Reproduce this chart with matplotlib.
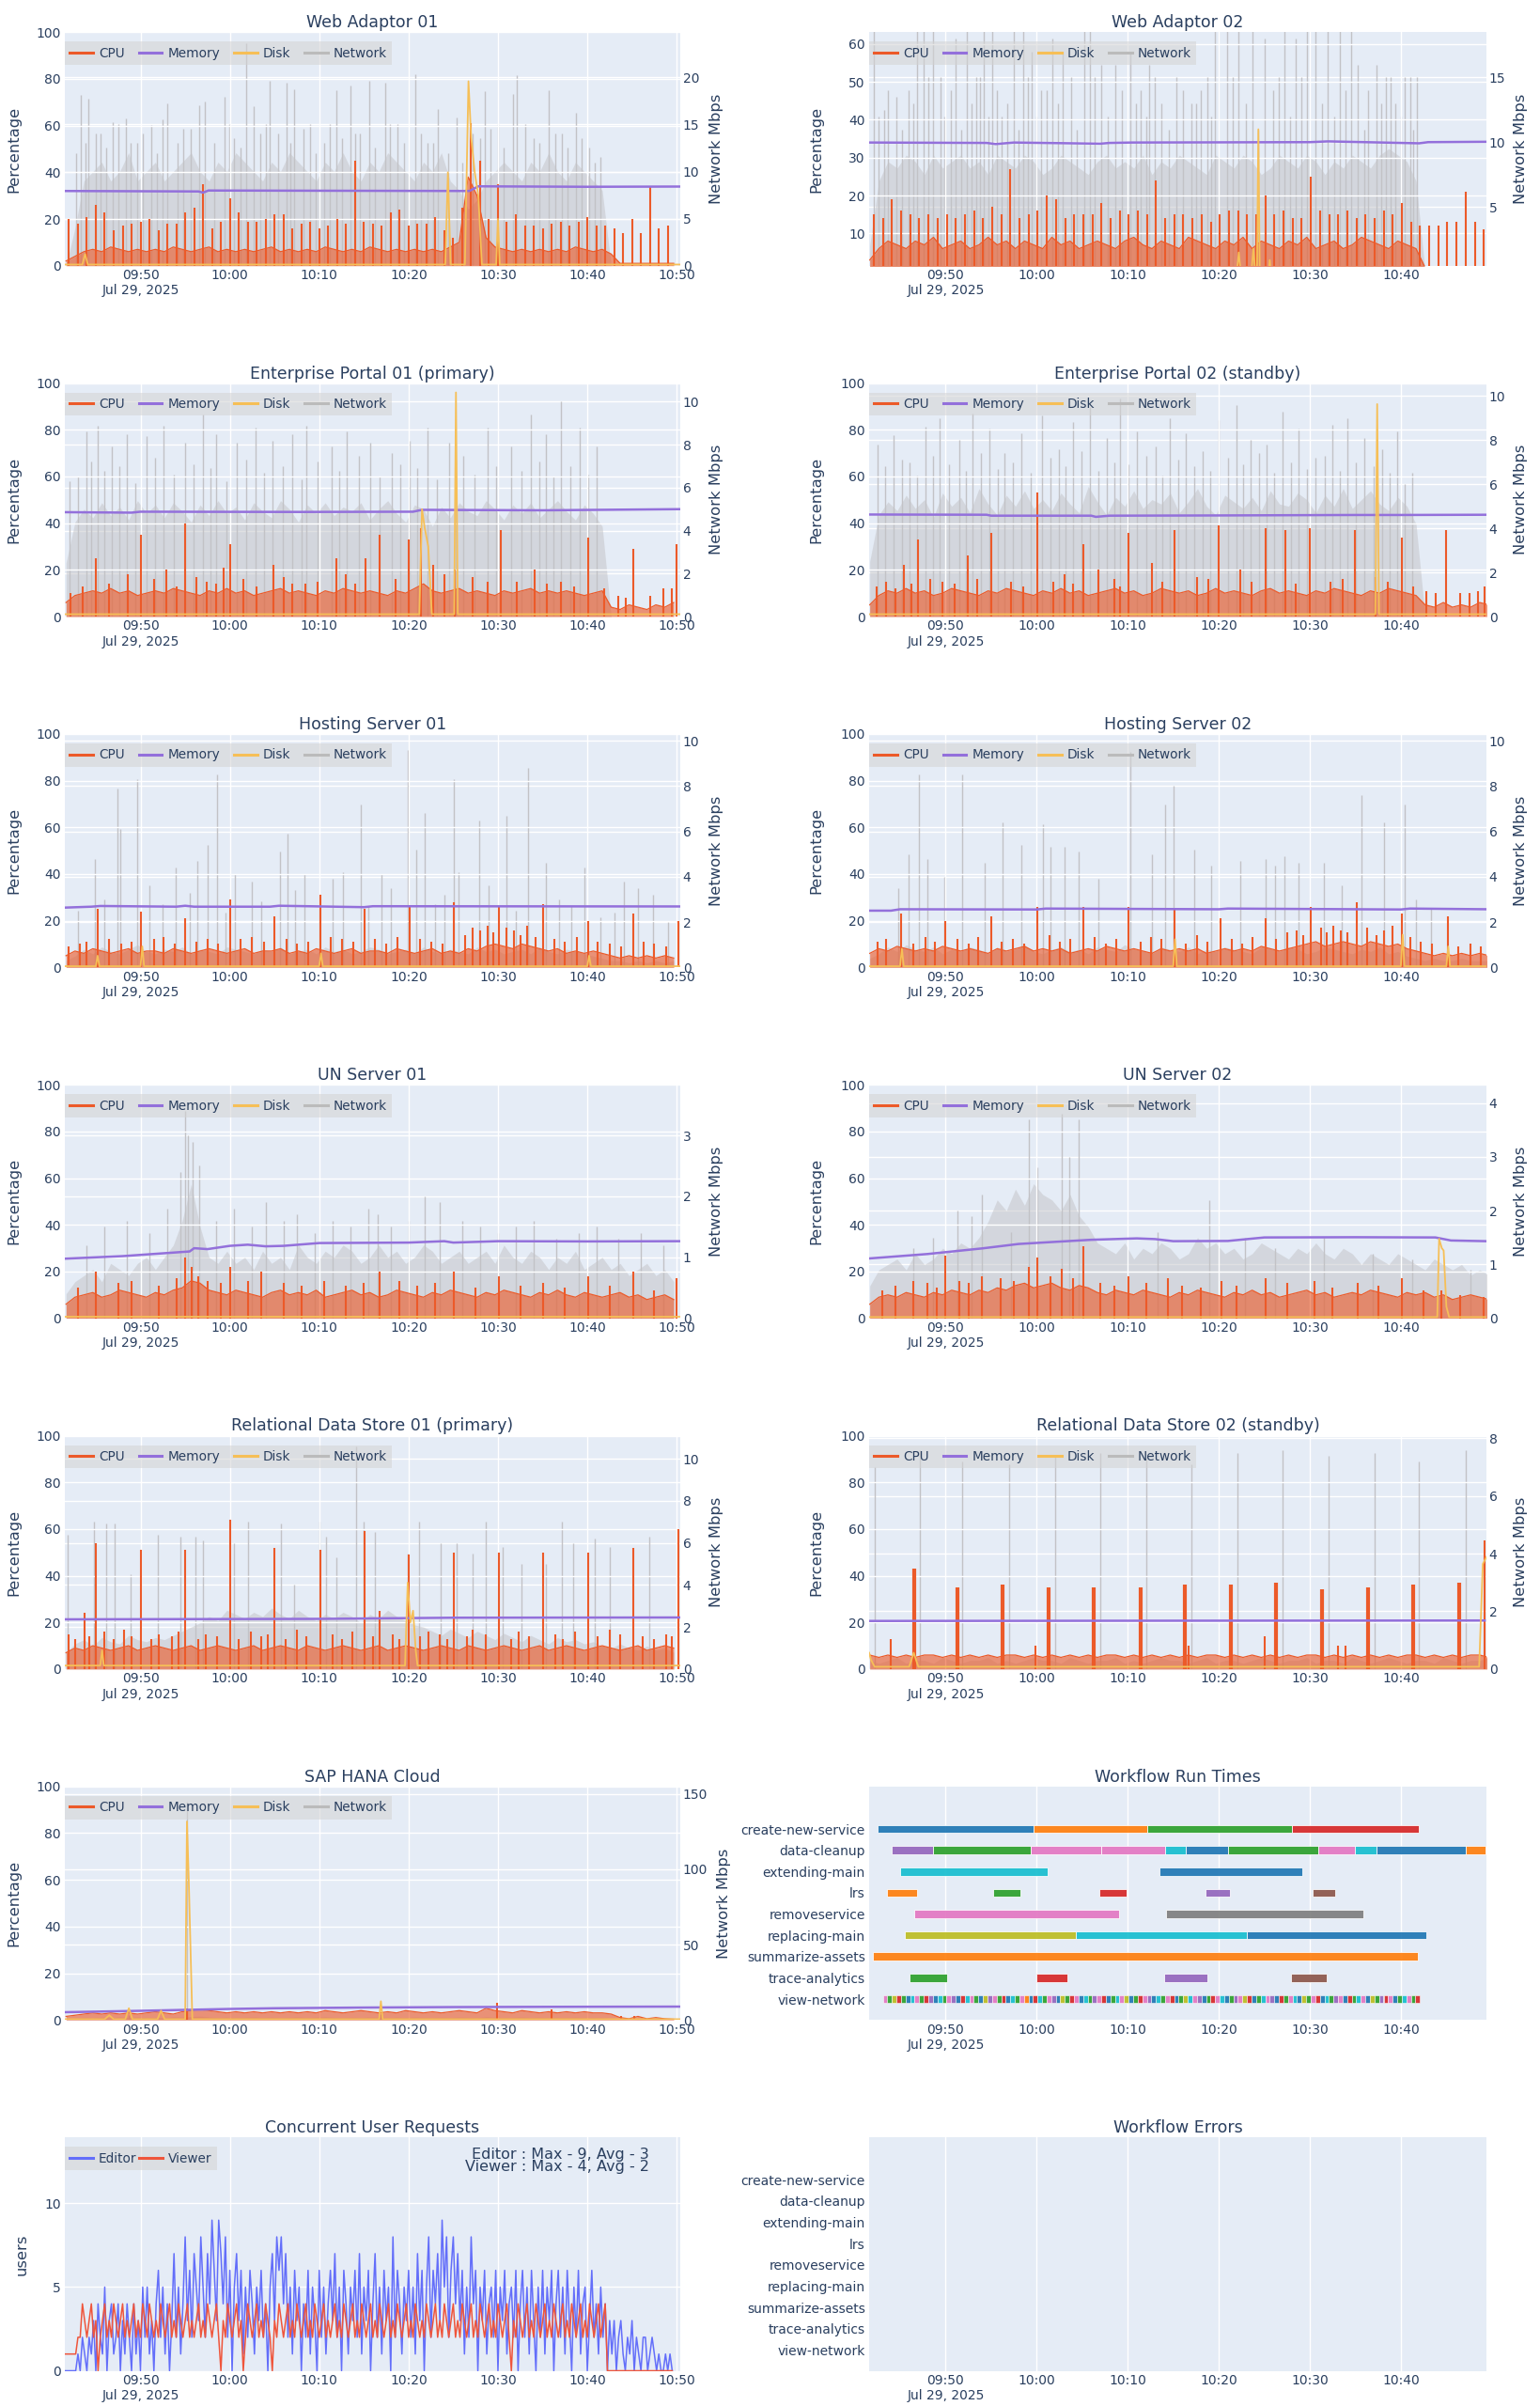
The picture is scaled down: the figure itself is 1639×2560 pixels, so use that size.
import numpy as np
import pandas as pd
import matplotlib
matplotlib.use("Agg")
import matplotlib.pyplot as plt
import matplotlib.dates as mdates
from matplotlib.lines import Line2D

plt.rcParams["font.family"] = ["DejaVu Sans"]

DAY = "2025-07-29 "
T0 = pd.Timestamp(DAY + "09:40:00")


def tm(m):
    # minutes after 09:40 -> datetime64
    return (T0 + pd.to_timedelta(np.asarray(m, dtype=float), unit="min")).to_numpy()


# ---------------- data ----------------
# dense-noise envelopes, one value per minute from 09:41:40
band_t = pd.date_range(DAY + "09:41:40", periods=69, freq="min").to_numpy()

# Web Adaptor 01
wa1_cpu_band = [2, 4, 6, 7, 6, 8, 7, 6, 7, 6,
                7, 6, 8, 7, 6, 7, 8, 6, 7, 6,
                7, 6, 7, 8, 6, 7, 6, 7, 6, 8,
                7, 6, 7, 6, 8, 7, 6, 7, 6, 7,
                6, 7, 6, 8, 10, 38, 30, 12, 8, 7,
                6, 7, 6, 7, 6, 7, 6, 8, 7, 6,
                7, 5, 1, 1, 1, 1, 1, 1, 1]
wa1_cpu_pk_t = pd.date_range(DAY + "09:42:00", periods=68, freq="min").to_numpy()
wa1_cpu_pk_v = [20, 18, 21, 26, 23, 15, 17, 18, 19, 20, 15, 18, 18, 23, 25, 35, 16, 19, 29, 23,
                19, 19, 20, 22, 22, 16, 18, 19, 16, 17, 20, 18, 45, 19, 18, 17, 23, 24, 17, 18,
                18, 21, 15, 12, 25, 61, 45, 20, 35, 19, 22, 17, 17, 16, 18, 19, 17, 19, 21, 17,
                17, 16, 14, 20, 14, 34, 16, 17]
wa1_mem_t = [1.5, 16.5, 17.0, 17.6, 46.8, 47.8, 60, 70.4]
wa1_mem_v = [32.0, 31.8, 31.3, 32.2, 32.0, 34.0, 33.8, 33.9]
wa1_disk_t = [1.5, 3.5, 3.8, 4.1, 44.1, 44.4, 44.7, 46.3, 46.7, 47.0, 47.4, 47.8, 48.2, 49.8, 50.0, 50.2, 70.4]
wa1_disk_v = [0.5, 0.5, 5, 0.5, 0.5, 40, 0.5, 0.5, 79, 55, 40, 30, 0.5, 0.5, 20, 0.5, 0.5]
wa1_net_band = [0, 4, 9, 10, 11, 9, 10, 12, 9, 10,
                11, 9, 10, 11, 12, 10, 9, 11, 10, 12,
                11, 10, 9, 11, 10, 12, 11, 10, 9, 11,
                10, 12, 10, 9, 11, 10, 12, 11, 10, 9,
                11, 10, 12, 9, 8, 6, 7, 9, 10, 11,
                10, 9, 11, 10, 12, 10, 9, 11, 10, 9,
                8, 0, 0, 0, 0, 0, 0, 0, 0]
wa1_net_pk_t = [3.3, 4.2, 5.5, 6.9, 8.4, 9.6, 11.2, 13.0, 14.8, 16.6, 17.2, 19.4, 20.5, 21.8,
                22.7, 24.5, 25.4, 26.3, 27.2, 29.0, 30.5, 31.9, 33.5, 34.5, 35.6, 37.4, 38.8,
                40.7, 42.1, 43.3, 45.4, 47.2, 48.5, 50.0, 51.7, 52.1, 54.0, 55.7, 57.2, 58.7,
                60.2, 61.5]
wa1_net_pk_v = [18.1, 17.7, 14, 15.2, 15.6, 13, 14.9, 17.2, 14.5, 17.0, 17.4, 17.9, 13.5, 23.6,
                16.9, 19.6, 14, 19.4, 18.7, 15, 13, 18.6, 19.1, 14, 19.6, 19.4, 15,
                20.3, 13, 16.6, 15.7, 14, 18.5, 15, 18.2, 20.2, 13.5, 18.6, 14, 16.2,
                12.5, 11.6]
wa1_net_mid_t = [2.8, 3.8, 5.0, 6.2, 7.5, 8.9, 10.3, 11.8, 12.5, 14.2, 15.6, 18.2, 19.9, 21.2,
                 23.4, 24.0, 26.8, 28.2, 29.6, 31.2, 32.6, 34.0, 36.2, 37.9, 39.5, 41.4, 42.7,
                 44.4, 46.0, 48.0, 49.2, 50.6, 53.0, 54.6, 56.4, 57.8, 59.4, 60.8]
wa1_net_mid_v = [12, 13, 14, 12.5, 15, 13, 14, 12, 15.5, 13, 14.5, 13, 15, 12.5,
                 14, 15, 13, 14.5, 12, 15, 13.5, 14, 12.5, 15, 13, 14, 13,
                 12, 11, 13.5, 14.5, 12.5, 15, 13, 14, 12.5, 13.5, 11]

# Web Adaptor 02
wa2_cpu_band = [3, 6, 8, 7, 6, 8, 7, 9, 6, 7,
                8, 6, 7, 9, 7, 8, 6, 8, 7, 6,
                9, 7, 8, 6, 7, 8, 7, 6, 8, 9,
                7, 6, 8, 7, 6, 9, 8, 7, 6, 8,
                7, 9, 6, 8, 7, 6, 8, 7, 9, 6,
                7, 8, 6, 7, 9, 8, 7, 6, 8, 7,
                6, 1, 1, 1, 1, 1, 1, 1, 1]
wa2_cpu_pk_t = pd.date_range(DAY + "09:42:07", periods=68, freq="min").to_numpy()
wa2_cpu_pk_v = [15, 14, 19, 16, 15, 14, 15, 14, 15, 14, 15, 16, 14, 17, 15, 27, 14, 15, 16, 20,
                19, 14, 15, 15, 15, 18, 14, 16, 15, 16, 15, 24, 14, 15, 15, 14, 15, 13, 15, 16,
                16, 15, 15, 20, 15, 16, 14, 14, 25, 16, 15, 15, 16, 14, 15, 14, 16, 15, 18, 13,
                12, 12, 12, 13, 13, 21, 13, 11]
wa2_mem_t = [1.6, 14.5, 15.5, 17.5, 27, 28, 30.5, 50, 52, 56, 62, 63, 69.4]
wa2_mem_v = [34.0, 33.9, 33.6, 34.0, 33.7, 33.9, 34.0, 34.1, 34.3, 34.1, 33.8, 34.1, 34.2]
wa2_disk_t = [1.6, 42.0, 42.2, 42.4, 43.6, 43.8, 44.0, 44.2, 44.35, 44.5, 45.5, 45.6, 45.7, 69.4]
wa2_disk_v = [0, 0, 5, 0, 0, 6, 0, 0, 37.5, 0, 0, 3, 0, 0]
wa2_net_band = [2, 7, 8.5, 8, 9, 8.5, 7.5, 9, 8, 8.5,
                9, 8, 8.5, 7.5, 9, 8.5, 8, 9, 8.5, 7.5,
                8, 9, 8.5, 8, 7.5, 8.5, 9, 8, 8.5, 8,
                9, 7.5, 8.5, 8, 9, 8.5, 8, 7.5, 9, 8.5,
                8, 9, 8.5, 7.5, 8, 9, 8.5, 8, 9, 8.5,
                7.5, 8.5, 8, 9, 8.5, 8, 9, 9.5, 9, 8.5,
                7, 0, 0, 0, 0, 0, 0, 0, 0]
wa2_net_pk_t = [2.1, 3.2, 4.6, 5.9, 6.9, 7.6, 8.6, 9.4, 11.1, 12.3, 13.4, 14.2, 15.1, 16.1, 17.5,
                18.5, 19.5, 20.5, 21.7, 22.9, 23.8, 25.2, 25.8, 27.1, 28.6, 30.3, 31.4, 32.4,
                33.7, 35.3, 37.0, 38.0, 38.8, 39.6, 40.9, 42.2, 43.7, 45.0, 46.6, 47.2, 48.5,
                49.7, 50.6, 52.0, 53.3, 54.5, 55.3, 56.4, 57.3, 58.4, 59.4, 60.4, 61.0, 61.8]
wa2_net_pk_v = [20, 12.5, 13.5, 14, 20, 20, 19.7, 15, 18, 19.7, 15, 20, 19, 12, 20,
                20, 17, 14, 18, 17, 15, 19, 20, 16, 16, 17, 14, 16,
                13, 15, 13, 14, 15, 20, 20, 20, 19, 18, 15, 20, 18,
                20, 20, 20, 20, 20, 16, 14, 16, 15, 13, 15, 15, 15]
wa2_net_mid_t = [2.6, 3.7, 5.2, 6.4, 8.1, 9.9, 10.6, 11.7, 12.9, 13.8, 14.7, 15.6, 16.8, 18.0,
                 19.0, 20.0, 21.1, 22.3, 24.4, 26.4, 27.8, 29.4, 30.9, 32.0, 33.0, 34.5, 36.1,
                 37.5, 39.2, 41.5, 43.0, 44.3, 46.0, 47.8, 49.1, 51.3, 52.7, 53.9, 56.0, 57.8,
                 58.9, 60.0, 61.4]
wa2_net_mid_v = [12, 14, 11, 13, 15, 12, 14, 11, 13, 15, 12, 14, 13, 11,
                 15, 12, 14, 13, 11, 15, 12, 14, 13, 12, 15, 11, 14,
                 13, 12, 15, 13, 11, 14, 12, 15, 13, 12, 14, 11, 13,
                 15, 12, 11]

# Enterprise Portal 01 (primary)
ep1_cpu_band = [6, 9, 10, 11, 10, 12, 10, 11, 9, 10,
                11, 10, 12, 11, 10, 9, 11, 10, 12, 10,
                11, 9, 10, 11, 12, 10, 11, 10, 9, 11,
                10, 12, 11, 10, 11, 10, 9, 11, 10, 12,
                14, 11, 10, 11, 12, 10, 11, 10, 9, 11,
                10, 11, 12, 10, 11, 10, 11, 10, 9, 10,
                11, 4, 3, 5, 4, 3, 5, 4, 6]
ep1_cpu_pk_t = [2.2, 3.5, 5.0, 6.5, 8.6, 10.1, 11.5, 12.9, 14.0, 15.0, 16.3, 17.4, 18.5, 19.3,
                20.0, 21.5, 23.0, 24.9, 26.0, 27.0, 28.5, 29.8, 31.9, 33.0, 34.0, 35.2, 36.8,
                38.5, 40.0, 41.4, 42.8, 44.0, 45.2, 47.2, 48.8, 50.3, 52.1, 54.1, 55.5, 57.0,
                58.5, 60.1, 61.9, 63.5, 64.3, 65.1, 67.0, 68.5, 69.5, 70.0]
ep1_cpu_pk_v = [10, 13, 25, 14, 18, 35, 16, 20, 13, 40, 17, 15, 14, 21,
                31, 16, 13, 22, 17, 14, 14, 15, 25, 18, 14, 25, 35,
                16, 33, 38, 22, 18, 20, 17, 15, 37, 15, 20, 14, 15,
                13, 34, 12, 9, 8, 29, 9, 12, 12, 31]
ep1_mem_t = [1.5, 9, 10, 28, 40.5, 41.5, 55, 70.4]
ep1_mem_v = [44.7, 44.5, 44.9, 44.8, 44.9, 45.7, 45.5, 46.0]
ep1_disk_t = [1.5, 41.2, 41.5, 41.8, 42.2, 42.6, 45.1, 45.3, 45.5, 70.4]
ep1_disk_v = [1, 1, 46, 38, 30, 1, 1, 96, 1, 1]
ep1_net_band = [2.5, 4.4, 5.0, 4.6, 5.3, 4.7, 5.1, 4.5, 5.4, 4.8,
                5.2, 4.6, 5.3, 4.9, 4.4, 5.2, 4.7, 5.4, 4.8, 5.1,
                4.5, 5.3, 4.9, 4.6, 5.4, 5.0, 4.4, 5.2, 4.8, 5.3,
                4.7, 5.1, 4.9, 5.3, 4.5, 5.0, 5.4, 4.8, 4.4, 5.2,
                5.0, 4.2, 5.1, 4.6, 5.3, 4.9, 4.7, 5.4, 5.0, 4.5,
                5.2, 4.8, 5.3, 4.6, 5.0, 5.4, 4.9, 4.5, 5.2, 4.8,
                4.2, 0, 0, 0, 0, 0, 0, 0, 0]
ep1_net_pk_t = [2.1, 3.9, 5.2, 6.8, 8.5, 10.7, 12.6, 15.0, 17.0, 18.5, 20.8, 22.9, 24.8, 27.0,
                28.6, 31.4, 33.1, 35.7, 38.1, 40.1, 42.1, 44.5, 46.1, 48.8, 51.5, 53.7, 55.4,
                57.0, 59.2, 61.0]
ep1_net_pk_v = [6.3, 8.6, 8.9, 7.9, 8.5, 8.4, 8.9, 8.1, 9.4, 8.5, 8.1, 8.8, 8.2, 8.5,
                8.9, 7.9, 8.6, 8.1, 7.6, 8.2, 8.8, 8.1, 7.5, 8.8, 7.9, 9.4, 8.5,
                10.0, 8.8, 7.9]
ep1_net_mid_t = [3.0, 4.5, 6.0, 7.6, 9.4, 11.6, 13.7, 15.9, 17.8, 19.6, 21.8, 23.8, 25.9, 28.0,
                 29.8, 32.2, 34.4, 36.8, 39.1, 41.0, 43.2, 45.3, 47.4, 49.8, 52.6, 54.6, 56.2,
                 58.1, 60.1]
ep1_net_mid_v = [6.5, 7.2, 6.8, 7.0, 6.2, 7.4, 6.6, 7.1, 6.9, 6.3, 7.3, 6.7, 7.0, 6.4,
                 7.2, 6.8, 7.5, 6.5, 7.1, 6.9, 6.4, 7.3, 6.6, 7.0, 6.8, 7.2, 6.5,
                 7.0, 6.6]

# Enterprise Portal 02 (standby)
ep2_cpu_band = [5, 9, 11, 10, 12, 10, 11, 9, 10, 12,
                11, 10, 9, 11, 10, 12, 11, 10, 9, 11,
                10, 12, 10, 11, 9, 10, 11, 12, 10, 11,
                9, 10, 12, 11, 10, 11, 9, 10, 12, 10,
                11, 10, 9, 11, 12, 10, 11, 10, 9, 11,
                10, 12, 11, 10, 9, 11, 10, 12, 11, 10,
                9, 5, 4, 6, 4, 5, 4, 6, 5]
ep2_cpu_pk_t = [2.4, 3.5, 4.5, 5.4, 6.2, 7.0, 8.3, 9.7, 11.0, 12.4, 13.5, 15.0, 17.2, 18.5,
                20.1, 21.8, 23.1, 24.0, 25.1, 26.8, 28.5, 29.2, 30.1, 32.7, 33.8, 35.1, 37.6,
                38.9, 40.0, 42.4, 43.6, 45.1, 47.3, 48.5, 50.0, 52.3, 53.6, 55.0, 57.2, 58.6,
                60.1, 61.4, 62.8, 63.8, 65.0, 66.5, 67.5, 68.5, 69.2]
ep2_cpu_pk_v = [13, 15, 12, 22, 14, 33, 16, 15, 14, 26, 16, 36, 15, 13,
                53, 15, 18, 14, 31, 20, 16, 13, 36, 23, 15, 37, 17,
                16, 39, 20, 15, 38, 37, 14, 38, 15, 16, 37, 17, 15,
                34, 13, 11, 10, 37, 10, 10, 11, 13]
ep2_mem_t = [1.6, 14.5, 15.0, 26.0, 26.5, 28, 40, 55, 60, 69.4]
ep2_mem_v = [43.7, 43.6, 43.2, 43.2, 42.7, 43.2, 43.3, 43.5, 43.5, 43.6]
ep2_disk_t = [1.6, 57.2, 57.4, 57.6, 69.4]
ep2_disk_v = [1, 1, 91, 1, 1]
ep2_net_band = [2.5, 4.6, 5.2, 4.8, 5.5, 4.9, 5.3, 4.5, 5.6, 5.0,
                5.4, 4.7, 5.8, 5.1, 4.6, 5.5, 5.0, 5.7, 4.9, 5.3,
                4.8, 5.6, 5.1, 4.7, 5.9, 5.2, 4.6, 5.4, 5.0, 5.7,
                4.9, 5.3, 5.1, 5.6, 4.7, 5.2, 5.8, 5.0, 4.6, 5.5,
                5.2, 4.9, 5.4, 4.8, 5.7, 5.1, 5.0, 5.6, 5.3, 4.7,
                5.5, 5.0, 5.8, 4.9, 5.3, 5.7, 5.1, 4.8, 5.4, 5.0,
                4.2, 0, 0, 0, 0, 0, 0, 0, 0]
ep2_net_pk_t = [2.5, 4.3, 6.0, 7.8, 9.3, 11.5, 13.0, 14.8, 16.5, 18.3, 20.6, 22.4, 24.0, 25.8,
                27.7, 29.2, 31.0, 33.1, 34.6, 36.4, 38.2, 40.0, 41.9, 43.5, 45.3, 47.0, 48.8,
                50.6, 52.5, 54.1, 56.0, 57.9, 59.6, 61.2]
ep2_net_pk_v = [7.8, 8.2, 7.0, 8.6, 9.0, 8.0, 9.2, 8.5, 7.4, 8.3, 9.1, 7.6, 8.8, 9.5,
                8.1, 9.9, 8.4, 7.7, 9.0, 8.3, 7.5, 8.9, 9.6, 8.0, 7.8, 9.3, 8.5,
                7.2, 8.7, 9.0, 8.1, 7.6, 8.4, 6.5]
ep2_net_mid_t = [3.4, 5.2, 6.9, 8.6, 10.4, 12.2, 13.9, 15.7, 17.4, 19.4, 21.5, 23.2, 24.9, 26.8,
                 28.5, 30.1, 32.0, 33.8, 35.5, 37.3, 39.1, 41.0, 42.7, 44.4, 46.1, 47.9, 49.7,
                 51.6, 53.3, 55.1, 57.0, 58.8, 60.4]
ep2_net_mid_v = [6.8, 7.1, 6.4, 7.3, 6.9, 6.6, 7.4, 6.7, 7.0, 6.5, 7.2, 6.8, 7.5, 6.6,
                 7.0, 6.9, 7.3, 6.4, 7.1, 6.8, 6.6, 7.2, 6.9, 7.4, 6.5, 7.0, 6.7,
                 7.3, 6.6, 7.0, 6.8, 6.5, 6.0]

# Hosting Server 01
hs1_cpu_band = [5, 7, 6, 8, 7, 6, 7, 8, 6, 7,
                7, 6, 8, 7, 6, 7, 8, 7, 6, 7,
                8, 6, 7, 7, 8, 6, 7, 6, 8, 7,
                6, 7, 8, 6, 7, 7, 6, 8, 7, 6,
                7, 8, 6, 7, 6, 8, 7, 9, 10, 9,
                8, 10, 9, 8, 7, 8, 6, 7, 6, 7,
                6, 5, 4, 5, 4, 5, 4, 5, 4]
hs1_cpu_pk_t = [5.2, 10.1, 15.0, 20.0, 25.0, 30.1, 35.1, 40.1, 45.1, 50.1, 55.0, 60.1, 65.1, 70.2,
                2.0, 3.2, 4.0, 6.5, 7.8, 9.0, 11.5, 12.6, 13.8, 16.3, 17.5, 18.7, 21.2, 22.5,
                23.8, 26.3, 27.5, 28.8, 31.3, 32.5, 33.8, 36.2, 37.5, 38.8, 41.3, 42.5, 43.8,
                46.3, 47.2, 48.0, 48.8, 49.5, 51.0, 51.8, 52.5, 53.3, 54.2, 56.3, 57.5, 58.8,
                61.2, 62.5, 63.8, 66.3, 67.5, 68.8]
hs1_cpu_pk_v = [25, 24, 21, 29, 22, 31, 25, 26, 28, 26, 27, 20, 23, 20,
                9, 10, 11, 12, 10, 11, 12, 13, 10, 11, 12, 10, 12, 13,
                11, 12, 10, 11, 13, 12, 11, 12, 10, 13, 12, 11, 10,
                14, 17, 16, 18, 15, 17, 16, 14, 18, 13, 12, 11, 13,
                11, 10, 9, 11, 10, 9]
hs1_mem_t = [1.5, 4.5, 5.5, 14, 15, 16, 24.5, 25.5, 35, 36, 70.4]
hs1_mem_v = [25.6, 26.0, 26.3, 26.0, 26.4, 26.0, 26.0, 26.4, 25.8, 26.2, 26.1]
hs1_disk_t = [1.5, 5.0, 5.2, 5.4, 10.0, 10.2, 10.4, 30.0, 30.2, 30.4, 60.0, 60.2, 60.4, 70.4]
hs1_disk_v = [0.5, 0.5, 5, 0.5, 0.5, 9, 0.5, 0.5, 6, 0.5, 0.5, 5, 0.5, 0.5]
hs1_net_band = [0.3, 0.5, 0.8, 0.6, 0.9, 0.7, 0.6, 0.8, 1.0, 0.7,
                0.6, 0.8, 0.7, 0.9, 0.6, 0.8, 0.7, 0.6, 0.9, 0.8,
                0.7, 0.6, 0.8, 0.7, 0.9, 0.6, 0.7, 0.8, 0.6, 0.9,
                0.7, 0.8, 0.6, 0.7, 0.9, 0.8, 0.6, 0.7, 0.8, 0.6,
                0.9, 0.7, 0.6, 0.8, 0.7, 0.6, 0.9, 0.7, 0.8, 0.6,
                0.7, 0.8, 0.6, 0.9, 0.7, 0.6, 0.8, 0.7, 0.6, 0.5,
                0.4, 0.3, 0.3, 0.2, 0.3, 0.2, 0.3, 0.2, 0.3]
hs1_net_pk_t = [4.9, 7.4, 7.7, 9.6, 13.9, 16.4, 17.5, 18.6, 20.6, 25.6, 26.5, 28.3, 32.7, 34.6,
                37.0, 39.9, 40.9, 41.8, 45.1, 45.6, 47.9, 50.9, 53.4, 55.4, 59.7, 64.1, 65.7,
                67.4, 3.0, 6.0, 11.0, 12.5, 15.5, 19.5, 22.5, 23.5, 27.3, 30.0, 31.5, 35.5,
                38.0, 43.0, 44.0, 49.0, 52.0, 56.8, 58.2, 61.5, 63.0, 69.0]
hs1_net_pk_v = [4.8, 7.9, 6.1, 8.3, 4.4, 4.7, 5.4, 8.5, 4.1, 5.1, 5.9, 4.1, 4.2, 7.2,
                4.1, 9.6, 5.2, 6.8, 8.3, 4.2, 6.5, 6.7, 8.8, 4.6, 4.4, 3.8, 3.5,
                3.2, 2.5, 3.0, 3.6, 2.8, 3.3, 2.4, 3.8, 2.9, 3.4, 2.6, 3.9, 2.7,
                3.5, 2.8, 3.2, 3.6, 2.5, 3.0, 2.7, 2.2, 2.4, 2.0]

# Hosting Server 02
hs2_cpu_band = [6, 8, 7, 9, 8, 7, 8, 7, 9, 8,
                7, 8, 7, 6, 8, 7, 8, 9, 7, 8,
                7, 8, 6, 7, 8, 7, 9, 8, 7, 8,
                7, 6, 8, 7, 8, 7, 8, 6, 7, 8,
                7, 8, 7, 9, 8, 7, 8, 9, 10, 11,
                9, 10, 11, 10, 9, 11, 10, 9, 10, 8,
                7, 6, 5, 6, 5, 6, 5, 6, 5]
hs2_cpu_pk_t = [5.1, 10.0, 15.0, 20.1, 25.1, 30.1, 35.1, 40.2, 45.1, 50.1, 55.2, 60.1, 65.2,
                2.5, 3.5, 6.5, 7.8, 8.8, 11.3, 12.5, 13.6, 16.2, 17.4, 18.6, 21.4, 22.6, 23.7,
                26.4, 27.6, 28.7, 31.4, 32.6, 33.7, 36.4, 37.6, 38.8, 41.4, 42.6, 43.7, 46.3,
                47.5, 48.6, 49.3, 51.2, 51.9, 52.6, 53.4, 54.1, 56.3, 57.3, 58.2, 59.1, 61.0,
                62.2, 63.4, 66.3, 67.6, 68.8]
hs2_cpu_pk_v = [23, 20, 22, 26, 26, 26, 25, 21, 21, 26, 28, 23, 22,
                11, 12, 10, 13, 11, 12, 10, 13, 11, 12, 10, 14, 11, 12,
                13, 10, 12, 11, 13, 12, 10, 14, 11, 12, 10, 13, 12,
                15, 16, 14, 17, 15, 18, 16, 15, 17, 14, 16, 18, 13,
                11, 10, 9, 10, 9]
hs2_mem_t = [1.6, 4.0, 5.0, 20, 21, 40, 41, 60, 61, 69.4]
hs2_mem_v = [24.3, 24.3, 24.9, 24.8, 25.2, 24.9, 25.2, 24.8, 25.2, 24.9]
hs2_disk_t = [1.6, 5.0, 5.2, 5.4, 35.0, 35.2, 35.4, 60.0, 60.2, 60.4, 65.0, 65.2, 65.4, 69.4]
hs2_disk_v = [0.5, 0.5, 8, 0.5, 0.5, 12, 0.5, 0.5, 14, 0.5, 0.5, 9, 0.5, 0.5]
hs2_net_band = [0.4, 0.6, 0.9, 0.7, 1.0, 0.8, 0.7, 0.9, 0.6, 0.8,
                0.7, 0.9, 0.8, 0.6, 0.9, 0.7, 0.8, 1.0, 0.7, 0.6,
                0.8, 0.9, 0.7, 0.8, 0.6, 0.9, 0.8, 0.7, 1.0, 0.8,
                0.7, 0.6, 0.9, 0.8, 0.7, 0.9, 0.6, 0.8, 0.7, 0.9,
                0.8, 0.7, 0.6, 0.9, 0.8, 0.7, 0.9, 0.8, 0.6, 0.7,
                0.9, 0.8, 0.7, 0.6, 0.8, 0.7, 0.9, 0.6, 0.7, 0.5,
                0.4, 0.3, 0.4, 0.3, 0.3, 0.4, 0.3, 0.3, 0.3]
hs2_net_pk_t = [4.8, 5.9, 7.1, 8.0, 9.9, 11.8, 14.3, 16.3, 18.3, 20.7, 21.5, 23.1, 24.6, 26.8,
                30.3, 32.7, 34.1, 35.0, 37.3, 39.2, 42.4, 45.1, 46.2, 47.2, 48.8, 51.5, 53.5,
                55.7, 58.2, 60.4, 61.7, 63.3]
hs2_net_pk_v = [3.5, 5.0, 8.5, 4.8, 4.0, 8.5, 4.6, 6.4, 5.4, 6.3, 5.3, 5.3, 5.1, 3.9,
                9.5, 5.0, 7.2, 8.0, 5.2, 4.5, 4.7, 4.8, 4.5, 4.9, 4.6, 4.6, 3.6,
                7.6, 6.4, 7.2, 3.0, 2.6]

# UN Server 01
un1_cpu_band = [6, 9, 10, 11, 9, 10, 12, 11, 10, 9,
                11, 10, 12, 13, 16, 15, 12, 11, 10, 12,
                11, 10, 9, 11, 12, 10, 11, 10, 12, 9,
                10, 11, 12, 10, 11, 9, 10, 12, 11, 10,
                9, 11, 10, 12, 11, 10, 9, 11, 10, 12,
                11, 10, 9, 11, 10, 12, 10, 9, 11, 10,
                9, 10, 11, 9, 10, 8, 9, 10, 8]
un1_cpu_pk_t = [5.0, 15.0, 15.7, 20.0, 23.5, 36.8, 45.1, 50.1, 60.1, 65.1, 70.0,
                3.0, 7.5, 9.0, 12.0, 14.0, 16.5, 17.5, 19.0, 22.0, 26.0, 28.0, 30.5,
                33.0, 35.0, 39.0, 41.0, 43.0, 47.5, 52.5, 55.0, 57.5, 62.5, 67.5]
un1_cpu_pk_v = [20, 26, 22, 22, 20, 20, 20, 18, 18, 20, 17,
                13, 15, 16, 14, 17, 18, 16, 15, 16, 15, 14, 16,
                14, 15, 16, 14, 15, 13, 14, 15, 13, 14, 12]
un1_mem_t = [1.5, 8, 14, 15.5, 16.0, 17.5, 20, 22, 24, 26, 30, 40, 44, 45, 50, 60, 70.4]
un1_mem_v = [25.5, 26.6, 28.2, 28.6, 30.0, 29.6, 31.0, 31.5, 30.8, 31.0, 32.2, 32.4, 33.0, 32.4,
             33.0, 32.9, 33.0]
un1_disk_t = [1.5, 70.4]
un1_disk_v = [0.5, 0.5]
un1_net_band = [0.4, 0.6, 0.7, 0.8, 0.6, 0.9, 0.8, 0.7, 0.9, 1.0,
                0.8, 1.0, 1.2, 1.6, 2.2, 1.5, 1.0, 0.9, 1.1, 0.9,
                1.0, 0.8, 1.1, 0.9, 1.0, 0.8, 1.2, 1.0, 0.9, 1.1,
                1.0, 1.2, 1.1, 0.9, 1.0, 1.2, 1.0, 1.1, 0.9, 1.0,
                1.2, 1.1, 0.9, 1.0, 1.1, 0.9, 1.0, 1.1, 0.9, 1.2,
                1.0, 0.9, 1.1, 1.0, 0.8, 1.0, 0.9, 1.1, 0.8, 0.9,
                1.0, 0.8, 0.9, 0.7, 0.8, 0.9, 0.7, 0.8, 0.6]
un1_net_pk_t = [4.0, 6.0, 8.5, 11.0, 13.0, 14.5, 15.0, 15.3, 15.8, 16.6, 18.5, 20.5, 22.5, 24.0,
                26.0, 27.5, 29.5, 31.5, 33.5, 35.5, 36.5, 38.0, 40.0, 41.8, 43.5, 46.0, 48.0,
                50.0, 52.0, 54.0, 56.5, 59.0, 61.0, 63.5, 66.0, 68.5]
un1_net_pk_v = [1.2, 1.5, 1.6, 1.4, 1.8, 2.4, 3.4, 3.0, 2.9, 2.5, 1.6, 1.8, 1.5, 1.9,
                1.6, 1.7, 1.4, 1.6, 1.5, 1.8, 1.7, 1.5, 1.6, 2.0, 1.9, 1.6, 1.5,
                1.4, 1.5, 1.6, 1.3, 1.4, 1.5, 1.3, 1.4, 1.2]

# UN Server 02
un2_cpu_band = [6, 9, 10, 9, 11, 10, 9, 11, 10, 12,
                11, 10, 12, 11, 13, 12, 14, 15, 13, 14,
                15, 13, 12, 14, 13, 11, 10, 12, 11, 10,
                12, 11, 10, 9, 11, 10, 12, 11, 10, 9,
                11, 10, 12, 10, 11, 9, 10, 11, 12, 10,
                11, 9, 10, 11, 10, 12, 11, 10, 9, 11,
                10, 11, 9, 10, 8, 9, 10, 9, 8]
un2_cpu_pk_t = [6.5, 10.0, 14.0, 19.1, 20.1, 22.8, 25.1, 30.1, 34.4, 40.3, 45.1, 50.5, 55.3,
                60.1, 64.4, 69.1, 3.0, 4.5, 8.0, 9.0, 11.5, 12.5, 16.0, 17.5, 21.5, 24.0, 27.0,
                28.5, 32.0, 36.0, 38.0, 42.0, 47.5, 52.5, 57.5, 62.5, 66.5]
un2_cpu_pk_v = [16, 27, 18, 22, 26, 21, 31, 18, 17, 16, 17, 16, 15,
                17, 12, 9, 12, 14, 15, 13, 16, 15, 17, 16, 18, 17, 15,
                14, 15, 14, 13, 14, 15, 13, 14, 12, 10]
un2_mem_t = [1.6, 8, 14, 18, 21.5, 26, 31, 33, 35, 41, 45, 55, 63.8, 65.5, 69.4]
un2_mem_v = [25.6, 27.5, 29.9, 31.8, 32.6, 33.6, 34.2, 33.9, 33.0, 33.1, 34.6, 34.7, 34.6, 33.3, 33.0]
un2_disk_t = [1.6, 64.0, 64.2, 64.5, 64.7, 65.0, 65.3, 69.4]
un2_disk_v = [0.5, 0.5, 34, 30, 29, 5, 0.5, 0.5]
un2_net_band = [0.6, 0.9, 1.0, 1.1, 0.9, 1.2, 1.0, 1.1, 1.3, 1.2,
                1.4, 1.3, 1.5, 1.8, 2.2, 2.0, 2.4, 2.1, 2.5, 2.3,
                2.2, 2.0, 2.3, 1.9, 1.7, 1.4, 1.3, 1.2, 1.4, 1.1,
                1.3, 1.2, 1.4, 1.3, 1.1, 1.2, 1.5, 1.3, 1.4, 1.2,
                1.3, 1.1, 1.2, 1.4, 1.3, 1.2, 1.1, 1.3, 1.2, 1.4,
                1.2, 1.1, 1.3, 1.2, 1.0, 1.2, 1.1, 1.0, 1.2, 1.1,
                1.0, 0.9, 1.1, 1.0, 0.9, 1.0, 0.8, 0.9, 0.8]
un2_net_pk_t = [6.5, 8.6, 11.3, 12.9, 14.0, 17.2, 19.1, 20.1, 22.8, 23.6, 24.6, 33.3, 39.0,
                42.9, 46.2, 51.5, 56.9, 61.2, 67.6]
un2_net_pk_v = [1.3, 1.5, 2.0, 1.9, 2.3, 1.6, 3.7, 2.8, 3.8, 3.0, 3.7, 1.6, 2.2,
                1.5, 1.3, 1.5, 1.2, 1.1, 0.9]

# Relational Data Store 01 (primary)
rd1_cpu_band = [7, 9, 8, 10, 9, 8, 9, 10, 8, 9,
                10, 9, 8, 9, 10, 8, 9, 10, 9, 8,
                9, 10, 8, 9, 10, 9, 8, 10, 9, 8,
                9, 10, 9, 8, 9, 10, 8, 9, 10, 9,
                8, 9, 10, 9, 8, 10, 9, 8, 9, 10,
                9, 8, 9, 10, 8, 9, 10, 9, 8, 9,
                10, 9, 8, 9, 10, 8, 9, 10, 9]
rd1_cpu_pk_t = [3.7, 5.0, 10.0, 15.0, 20.0, 25.0, 30.1, 35.1, 36.8, 40.0, 45.1, 50.1, 55.0, 60.1,
                65.1, 70.2, 2.0, 2.7, 4.3, 6.0, 7.0, 8.2, 9.0, 11.2, 12.0, 13.5, 14.3, 16.5,
                17.3, 18.6, 21.0, 22.3, 23.5, 24.2, 26.2, 27.5, 28.6, 31.5, 32.5, 33.7, 36.0,
                38.2, 39.0, 41.3, 42.2, 43.5, 44.3, 46.5, 47.2, 48.6, 51.5, 52.3, 53.5, 56.4,
                57.3, 58.6, 61.2, 62.5, 63.7, 66.2, 67.5, 68.8, 69.5]
rd1_cpu_pk_v = [24, 54, 51, 51, 64, 52, 51, 59, 25, 49, 50, 50, 50, 50,
                52, 60, 15, 13, 14, 16, 13, 17, 14, 13, 15, 14, 16, 13,
                15, 14, 13, 16, 14, 15, 13, 17, 14, 15, 13, 16, 14,
                15, 13, 14, 16, 15, 13, 14, 17, 15, 13, 16, 14, 15,
                13, 16, 14, 17, 15, 14, 13, 15, 14]
rd1_mem_t = [1.5, 30, 45, 70.4]
rd1_mem_v = [21.3, 21.5, 22.0, 22.1]
rd1_disk_t = [1.5, 5.5, 5.7, 5.9, 39.6, 39.9, 40.2, 40.5, 40.8, 41.0, 70.4]
rd1_disk_v = [1.5, 1.5, 8, 1.5, 1.5, 37, 20, 25, 8, 1.5, 1.5]
rd1_net_band = [0.8, 1.2, 1.4, 1.1, 1.5, 1.3, 1.2, 1.6, 1.4, 1.3,
                1.5, 1.4, 1.6, 1.8, 2.0, 2.2, 2.5, 2.3, 2.8, 2.6,
                2.4, 2.7, 2.5, 2.9, 2.6, 2.4, 2.8, 2.5, 2.3, 2.6,
                2.4, 2.7, 2.5, 2.2, 2.6, 2.4, 2.8, 2.5, 2.3, 2.1,
                2.0, 1.8, 1.6, 1.9, 1.7, 1.5, 1.8, 1.6, 1.4, 1.7,
                1.5, 1.3, 1.6, 1.4, 1.2, 1.5, 1.3, 1.4, 1.2, 1.3,
                1.1, 1.0, 1.2, 1.0, 0.9, 1.1, 0.9, 1.0, 0.8]
rd1_net_pk_t = [1.9, 4.8, 6.2, 7.1, 8.9, 11.9, 14.5, 16.1, 17.0, 20.5, 22.0, 25.7, 27.2, 30.0,
                30.8, 31.9, 34.1, 35.0, 36.2, 39.9, 41.2, 43.6, 45.4, 47.2, 48.6, 50.5, 52.6,
                55.4, 57.2, 58.4, 60.8, 62.5, 66.9]
rd1_net_pk_v = [6.4, 7.0, 6.9, 6.9, 4.5, 6.4, 6.3, 6.3, 6.1, 6.0, 7.0, 6.9, 4.0, 7.0,
                6.3, 5.3, 10.6, 7.0, 6.5, 5.5, 7.0, 6.0, 6.0, 5.5, 7.0, 5.8, 5.0,
                5.0, 7.0, 6.0, 6.2, 5.8, 6.3]

# Relational Data Store 02 (standby)
rd2_cpu_band = [6, 5, 6, 5, 6, 5, 6, 6, 5, 6,
                5, 6, 5, 6, 5, 6, 6, 5, 6, 5,
                6, 5, 6, 5, 6, 5, 6, 6, 5, 6,
                5, 6, 5, 6, 5, 6, 5, 6, 6, 5,
                6, 5, 6, 5, 6, 5, 6, 5, 6, 6,
                5, 6, 5, 6, 5, 6, 5, 6, 5, 6,
                6, 5, 6, 5, 6, 5, 6, 6, 5]
rd2_wide_t = [6.6, 11.3, 16.3, 21.3, 26.3, 31.4, 36.3, 41.3, 46.3, 51.3, 56.4, 61.3, 66.4]
rd2_wide_v = [43, 35, 36, 35, 35, 35, 36, 36, 37, 34, 35, 36, 37]
rd2_cpu_pk_t = [4.0, 19.9, 36.7, 45.0, 53.1, 53.9, 69.2]
rd2_cpu_pk_v = [13, 10, 10, 14, 10, 10, 55]
rd2_mem_t = [1.6, 30, 69.2]
rd2_mem_v = [20.6, 20.7, 20.8]
rd2_disk_t = [1.6, 1.8, 2.2, 6.0, 6.5, 7.0, 68.6, 69.0, 69.4]
rd2_disk_v = [7, 4, 1, 1, 7, 1, 1, 45, 48]
rd2_net_band = [0.3, 0.2, 0.3, 0.4, 0.2, 0.3, 0.3, 0.2, 0.4, 0.3,
                0.2, 0.3, 0.3, 0.4, 0.2, 0.3, 0.2, 0.3, 0.4, 0.3,
                0.3, 0.2, 0.4, 0.3, 0.2, 0.3, 0.3, 0.4, 0.2, 0.3,
                0.2, 0.3, 0.4, 0.3, 0.3, 0.2, 0.3, 0.4, 0.2, 0.3,
                0.3, 0.2, 0.3, 0.4, 0.3, 0.2, 0.3, 0.3, 0.4, 0.2,
                0.3, 0.3, 0.2, 0.4, 0.3, 0.2, 0.3, 0.4, 0.3, 0.2,
                0.3, 0.3, 0.2, 0.4, 0.3, 0.2, 0.3, 0.3, 0.4]
rd2_net_pk_t = [2.2, 7.2, 11.8, 17.0, 22.0, 27.0, 32.0, 37.0, 42.1, 47.0, 52.1, 57.1, 62.0, 67.1]
rd2_net_pk_v = [7.0, 7.6, 7.2, 7.1, 7.4, 7.5, 7.3, 7.1, 7.5, 7.6, 7.4, 7.5, 7.2, 7.6]

# SAP HANA Cloud
sap_cpu_band = [1.5, 2, 2.5, 3, 2.5, 3, 2.5, 3, 2.5, 3,
                3.5, 3, 2.5, 3.5, 4, 4.5, 4, 3.5, 3, 3.5,
                3, 3.5, 3, 3.5, 3, 3.5, 3, 3.5, 3, 4,
                3.5, 3, 3.5, 4, 3.5, 3, 3.5, 3, 4, 3.5,
                3, 3.5, 3, 3.5, 4, 3.5, 3, 5, 4, 3.5,
                3, 4, 3.5, 3, 3.5, 3, 3.5, 3, 3.5, 3,
                3, 2.5, 1, 0.5, 1.5, 0.5, 1, 0.5, 0.3]
sap_cpu_pk_t = [15.2, 49.9, 56.0, 63.8, 65.3]
sap_cpu_pk_v = [5, 7.2, 4.5, 1.8, 1.5]
sap_mem_t = [1.5, 10, 15, 20, 25, 35, 45, 55, 70.4]
sap_mem_v = [3.3, 3.9, 4.3, 4.7, 5.0, 5.3, 5.5, 5.6, 5.7]
sap_disk_t = [1.5, 6.0, 6.5, 7.0, 8.3, 8.7, 9.1, 11.9, 12.3, 12.7, 15.0, 15.2, 15.4, 15.8, 36.7,
              36.9, 37.1, 70.4]
sap_disk_v = [0.3, 0.3, 2, 0.3, 0.3, 5, 0.3, 0.3, 4, 0.3, 0.3, 85, 60, 0.3, 0.3, 8, 0.3, 0.3]
sap_net_band = [0.8, 1.2, 1.5, 1.3, 1.8, 1.4, 2.0, 1.6, 1.9, 1.5,
                1.7, 1.4, 2.0, 1.8, 2.2, 2.5, 1.9, 1.6, 1.8, 1.5,
                1.7, 1.9, 1.6, 1.8, 1.5, 1.7, 1.9, 1.6, 1.8, 2.0,
                1.7, 1.5, 1.8, 1.6, 1.9, 1.7, 1.5, 1.8, 1.6, 1.9,
                1.7, 1.5, 1.8, 1.6, 1.9, 1.7, 1.5, 2.1, 1.8, 1.6,
                1.7, 1.9, 1.6, 1.8, 1.5, 1.7, 1.6, 1.8, 1.5, 1.6,
                1.4, 1.0, 0.5, 0.3, 0.4, 0.3, 0.3, 0.2, 0.2]
sap_net_pk_t = [8.7, 15.2, 36.9, 50.0]
sap_net_pk_v = [3, 145, 4, 3]

# Concurrent users, one value per 15 s from 09:41:30
conc_t = pd.date_range(DAY + "09:41:30", periods=273, freq="15s").to_numpy()
editor = [0, 0, 0, 0, 0, 0, 1, 0, 2, 1, 0, 2,
          1, 3, 0, 4, 2, 1, 5, 0, 3, 4, 1, 2,
          4, 0, 3, 1, 4, 2, 0, 4, 1, 3, 0, 5,
          2, 5, 1, 3, 0, 4, 6, 2, 5, 1, 4, 0,
          3, 7, 2, 5, 1, 4, 8, 3, 6, 2, 7, 5,
          3, 8, 5, 2, 7, 4, 9, 6, 3, 9, 7, 4,
          8, 2, 6, 0, 5, 7, 3, 6, 1, 5, 2, 6,
          4, 1, 5, 3, 6, 2, 4, 0, 5, 7, 3, 8,
          6, 8, 4, 7, 2, 5, 1, 6, 3, 5, 0, 4,
          2, 6, 1, 5, 3, 0, 6, 2, 5, 1, 4, 6,
          3, 7, 2, 5, 0, 6, 4, 1, 5, 3, 6, 2,
          7, 1, 5, 3, 6, 0, 4, 7, 2, 5, 1, 6,
          3, 5, 0, 8, 2, 6, 4, 1, 5, 3, 6, 2,
          5, 1, 7, 3, 6, 0, 5, 8, 2, 6, 4, 7,
          3, 9, 5, 8, 2, 6, 8, 4, 7, 3, 6, 1,
          5, 2, 8, 4, 6, 0, 5, 3, 6, 1, 4, 5,
          2, 6, 0, 5, 3, 6, 1, 4, 5, 2, 6, 0,
          4, 6, 2, 5, 1, 6, 3, 0, 5, 2, 6, 1,
          5, 3, 6, 0, 4, 6, 2, 5, 1, 6, 3, 0,
          5, 2, 6, 1, 4, 5, 0, 3, 6, 2, 4, 1,
          5, 2, 4, 0, 3, 1, 3, 0, 2, 3, 1, 0,
          2, 1, 3, 0, 2, 1, 0, 2, 2, 0, 1, 2,
          1, 0, 1, 0, 0, 1, 0, 1, 0]
viewer = [1, 1, 1, 1, 1, 1, 2, 2, 4, 3, 2, 3,
          4, 2, 3, 0, 2, 3, 4, 2, 3, 2, 4, 3,
          2, 3, 4, 2, 3, 2, 3, 4, 2, 3, 2, 4,
          3, 2, 4, 3, 2, 3, 2, 4, 3, 2, 3, 4,
          2, 3, 2, 4, 3, 2, 3, 4, 2, 3, 2, 3,
          4, 2, 3, 2, 4, 3, 2, 3, 4, 2, 0, 3,
          2, 4, 3, 2, 3, 4, 2, 3, 0, 2, 4, 3,
          2, 3, 4, 2, 3, 2, 4, 3, 2, 0, 3, 2,
          4, 3, 2, 3, 4, 2, 3, 2, 4, 3, 2, 3,
          4, 2, 3, 2, 4, 3, 2, 3, 4, 2, 3, 2,
          3, 4, 2, 3, 2, 4, 3, 2, 3, 4, 2, 3,
          2, 4, 3, 2, 3, 4, 2, 3, 2, 4, 3, 2,
          3, 4, 2, 3, 2, 4, 3, 2, 3, 4, 2, 3,
          2, 4, 3, 2, 3, 2, 4, 3, 2, 3, 4, 2,
          3, 2, 4, 3, 2, 3, 4, 2, 3, 2, 4, 3,
          2, 3, 4, 2, 3, 2, 4, 3, 2, 3, 4, 2,
          3, 2, 4, 3, 2, 3, 4, 2, 0, 3, 2, 4,
          3, 2, 3, 4, 2, 3, 2, 4, 3, 2, 3, 4,
          2, 3, 2, 4, 3, 2, 3, 4, 2, 3, 2, 4,
          3, 2, 3, 4, 2, 3, 2, 4, 3, 2, 3, 4,
          2, 3, 4, 0, 0, 0, 0, 0, 0, 0, 0, 0,
          0, 0, 0, 0, 0, 0, 0, 0, 0, 0, 0, 0,
          0, 0, 0, 0, 0, 0, 0, 0, 0]

# Workflow run times
wf_rows = ["create-new-service", "data-cleanup", "extending-main", "lrs", "removeservice",
           "replacing-main", "summarize-assets", "trace-analytics", "view-network"]
wf_task = (["create-new-service"] * 4 + ["data-cleanup"] * 11 + ["extending-main"] * 2
           + ["lrs"] * 5 + ["removeservice"] * 2 + ["replacing-main"] * 3
           + ["summarize-assets"] + ["trace-analytics"] * 4)
wf_start = ["09:42:34", "09:59:41", "10:12:11", "10:28:01",
            "09:44:04", "09:48:40", "09:59:22", "10:07:07", "10:14:07", "10:16:25", "10:21:01",
            "10:30:55", "10:34:55", "10:37:20", "10:47:07",
            "09:45:02", "10:13:29",
            "09:43:32", "09:55:14", "10:06:54", "10:18:34", "10:30:16",
            "09:46:31", "10:14:13",
            "09:45:34", "10:04:17", "10:23:03",
            "09:42:02",
            "09:46:02", "10:00:00", "10:13:58", "10:27:55"]
wf_end = ["09:59:41", "10:12:11", "10:28:01", "10:41:56",
          "09:48:40", "09:59:22", "10:07:07", "10:14:07", "10:16:25", "10:21:01", "10:30:55",
          "10:34:55", "10:37:20", "10:47:07", "10:49:15",
          "10:01:11", "10:29:12",
          "09:46:50", "09:58:11", "10:09:50", "10:21:11", "10:32:50",
          "10:09:02", "10:35:53",
          "10:04:17", "10:23:03", "10:42:50",
          "10:41:49",
          "09:50:07", "10:03:25", "10:18:46", "10:31:52"]
wf_color = [0, 1, 2, 3,
            4, 2, 6, 6, 9, 0, 2, 6, 9, 0, 1,
            9, 0,
            1, 2, 3, 4, 5,
            6, 7,
            8, 9, 0,
            1,
            2, 3, 4, 5]
# view-network: short 30 s runs from 09:43:06
vn_start = pd.date_range(DAY + "09:43:06", periods=118, freq="30s").to_numpy()
vn_color = [6, 2, 8, 3, 2, 0, 9, 6, 2, 3, 4, 0, 9, 2, 6, 4, 0, 3, 9, 6,
            2, 0, 8, 4, 6, 2, 3, 0, 9, 2, 6, 1, 0, 3, 9, 2, 6, 4, 0, 8,
            2, 3, 6, 0, 9, 2, 4, 6, 3, 0, 2, 9, 6, 8, 0, 2, 3, 6, 4, 0,
            9, 2, 6, 3, 0, 2, 8, 9, 6, 4, 0, 2, 3, 6, 9, 0, 2, 4, 6, 8,
            3, 0, 2, 9, 6, 4, 0, 3, 2, 6, 9, 0, 8, 2, 6, 3, 0, 9, 2, 4,
            6, 0, 3, 2, 9, 6, 0, 8, 2, 4, 3, 6, 0, 2, 9, 6, 2, 3]

# ---------------- styling / layout ----------------
W, H = 1639, 2560
BG = "#E5ECF6"
TXT = "#2a3f5f"
CPU_C = "#EC5A29"
MEM_C = "#9370DB"
DISK_C = "#F6BF57"
NET_C = "#C2C2C6"
PAL = ["#1f77b4", "#ff7f0e", "#2ca02c", "#d62728", "#9467bd",
       "#8c564b", "#e377c2", "#7f7f7f", "#bcbd22", "#17becf"]

COLS = [(69, 655), (925, 657)]
TOP0, PITCH, PH = 34.3, 373.3, 248.4
XLIM = [(np.datetime64("2025-07-29T09:41:32"), np.datetime64("2025-07-29T10:50:24")),
        (np.datetime64("2025-07-29T09:41:36"), np.datetime64("2025-07-29T10:49:24"))]
XT = [pd.date_range(DAY + "09:50", DAY + "10:50", freq="10min"),
      pd.date_range(DAY + "09:50", DAY + "10:40", freq="10min")]

TICK_FS, TITLE_FS, LAB_FS, LEG_FS = 10, 12.5, 11.8, 9.8

fig = plt.figure(figsize=(W / 100, H / 100), dpi=100)


def box(col, row):
    x0, w = COLS[col]
    top = TOP0 + row * PITCH
    return [x0 / W, 1 - (top + PH) / H, w / W, PH / H]


def ylab(text, x, row):
    yc = TOP0 + row * PITCH + PH / 2
    fig.text(x / W, 1 - yc / H, text, rotation=90, ha="center", va="center",
             fontsize=LAB_FS, color=TXT)


def time_labels(col):
    labs = [t.strftime("%H:%M") for t in XT[col]]
    labs[0] += "\nJul 29, 2025"
    return labs


def base_style(ax):
    for s in ax.spines.values():
        s.set_visible(False)
    ax.tick_params(length=0, labelsize=TICK_FS, labelcolor=TXT)
    ax.tick_params(axis="x", pad=2.5)
    ax.tick_params(axis="y", pad=3)


def legend(ax, handles, labels, ncol, colsp):
    ax.legend(handles, labels, loc="upper left", bbox_to_anchor=(0, 1 - 10 / PH), ncol=ncol,
              fancybox=False, facecolor="#d3d3d3", framealpha=0.55, edgecolor="none",
              fontsize=LEG_FS, handlelength=1.8, handletextpad=0.45, columnspacing=colsp,
              borderpad=0.4, borderaxespad=0, labelcolor=TXT)


def server(col, row, title, cpu_band, pk_t, pk_v, mem_t, mem_v, disk_t, disk_v,
           net_band, npk_t, npk_v, net_lim, net_ticks, pct_lim=(0, 100),
           pct_ticks=(0, 20, 40, 60, 80, 100), net_x=None, wide=None):
    ax = fig.add_axes(box(col, row))
    ax2 = ax.twinx()
    ax.set_zorder(ax2.get_zorder() + 1)
    ax.patch.set_visible(False)
    ax2.patch.set_visible(True)
    ax2.patch.set_facecolor(BG)

    # network on the right axis, behind
    ax2.fill_between(band_t, 0, net_band, color=NET_C, alpha=0.5, lw=0)
    ax2.vlines(tm(npk_t), 0, npk_v, color=NET_C, lw=1.0)

    # cpu
    ax.fill_between(band_t, 0, cpu_band, color=CPU_C, alpha=0.62, lw=0)
    ax.plot(band_t, cpu_band, color=CPU_C, lw=0.9)
    t = pk_t if np.issubdtype(np.asarray(pk_t).dtype, np.datetime64) else tm(pk_t)
    ax.vlines(t, 0, pk_v, color=CPU_C, lw=1.5)
    if wide is not None:
        ax.vlines(tm(wide[0]), 0, wide[1], color=CPU_C, lw=3.0)
    ax.plot(tm(mem_t), mem_v, color=MEM_C, lw=1.8)
    ax.plot(tm(disk_t), disk_v, color=DISK_C, lw=1.3)

    ax.set_xlim(*XLIM[col])
    ax.set_xticks(XT[col].to_numpy())
    ax.set_xticklabels(time_labels(col))
    ax.set_ylim(*pct_lim)
    ax.set_yticks(pct_ticks)
    ax2.set_ylim(*net_lim)
    ax2.set_yticks(net_ticks)
    ax.grid(True, color="white", lw=1.0)
    ax.set_axisbelow(True)
    ax2.grid(True, axis="y", color="white", lw=1.0)
    ax2.set_axisbelow(True)
    base_style(ax)
    base_style(ax2)
    ax2.tick_params(axis="y", pad=2)
    ax.set_title(title, fontsize=TITLE_FS, color=TXT, pad=3.6)

    handles = [Line2D([], [], color=CPU_C, lw=2.2), Line2D([], [], color=MEM_C, lw=2.2),
               Line2D([], [], color=DISK_C, lw=2.2), Line2D([], [], color="#BBBBBB", lw=2.2)]
    legend(ax, handles, ["CPU", "Memory", "Disk", "Network"], 4, 1.1)

    ylab("Percentage", 14.5 if col == 0 else 869, row)
    if net_x is None:
        net_x = 763 if col == 0 else 1619
    ylab("Network Mbps", net_x, row)


server(0, 0, "Web Adaptor 01", wa1_cpu_band, wa1_cpu_pk_t, wa1_cpu_pk_v, wa1_mem_t, wa1_mem_v,
       wa1_disk_t, wa1_disk_v, wa1_net_band, wa1_net_pk_t + wa1_net_mid_t,
       wa1_net_pk_v + wa1_net_mid_v, (0, 24.8), [0, 5, 10, 15, 20])
server(1, 0, "Web Adaptor 02", wa2_cpu_band, wa2_cpu_pk_t, wa2_cpu_pk_v, wa2_mem_t, wa2_mem_v,
       wa2_disk_t, wa2_disk_v, wa2_net_band, wa2_net_pk_t + wa2_net_mid_t,
       wa2_net_pk_v + wa2_net_mid_v, (0.45, 18.5), [5, 10, 15],
       pct_lim=(1.5, 63.1), pct_ticks=[10, 20, 30, 40, 50, 60])
server(0, 1, "Enterprise Portal 01 (primary)", ep1_cpu_band, ep1_cpu_pk_t, ep1_cpu_pk_v,
       ep1_mem_t, ep1_mem_v, ep1_disk_t, ep1_disk_v, ep1_net_band, ep1_net_pk_t + ep1_net_mid_t,
       ep1_net_pk_v + ep1_net_mid_v, (0, 10.87), [0, 2, 4, 6, 8, 10])
server(1, 1, "Enterprise Portal 02 (standby)", ep2_cpu_band, ep2_cpu_pk_t, ep2_cpu_pk_v,
       ep2_mem_t, ep2_mem_v, ep2_disk_t, ep2_disk_v, ep2_net_band, ep2_net_pk_t + ep2_net_mid_t,
       ep2_net_pk_v + ep2_net_mid_v, (0, 10.58), [0, 2, 4, 6, 8, 10])
server(0, 2, "Hosting Server 01", hs1_cpu_band, hs1_cpu_pk_t, hs1_cpu_pk_v, hs1_mem_t, hs1_mem_v,
       hs1_disk_t, hs1_disk_v, hs1_net_band, hs1_net_pk_t, hs1_net_pk_v, (0, 10.3), [0, 2, 4, 6, 8, 10])
server(1, 2, "Hosting Server 02", hs2_cpu_band, hs2_cpu_pk_t, hs2_cpu_pk_v, hs2_mem_t, hs2_mem_v,
       hs2_disk_t, hs2_disk_v, hs2_net_band, hs2_net_pk_t, hs2_net_pk_v, (0, 10.3), [0, 2, 4, 6, 8, 10])
server(0, 3, "UN Server 01", un1_cpu_band, un1_cpu_pk_t, un1_cpu_pk_v, un1_mem_t, un1_mem_v,
       un1_disk_t, un1_disk_v, un1_net_band, un1_net_pk_t, un1_net_pk_v, (0, 3.83), [0, 1, 2, 3])
server(1, 3, "UN Server 02", un2_cpu_band, un2_cpu_pk_t, un2_cpu_pk_v, un2_mem_t, un2_mem_v,
       un2_disk_t, un2_disk_v, un2_net_band, un2_net_pk_t, un2_net_pk_v, (0, 4.34), [0, 1, 2, 3, 4])
server(0, 4, "Relational Data Store 01 (primary)", rd1_cpu_band, rd1_cpu_pk_t, rd1_cpu_pk_v,
       rd1_mem_t, rd1_mem_v, rd1_disk_t, rd1_disk_v, rd1_net_band, rd1_net_pk_t, rd1_net_pk_v,
       (0, 11.1), [0, 2, 4, 6, 8, 10])
server(1, 4, "Relational Data Store 02 (standby)", rd2_cpu_band, rd2_cpu_pk_t, rd2_cpu_pk_v,
       rd2_mem_t, rd2_mem_v, rd2_disk_t, rd2_disk_v, rd2_net_band, rd2_net_pk_t, rd2_net_pk_v,
       (0, 8.09), [0, 2, 4, 6, 8], wide=(rd2_wide_t, rd2_wide_v))
server(0, 5, "SAP HANA Cloud", sap_cpu_band, sap_cpu_pk_t, sap_cpu_pk_v, sap_mem_t, sap_mem_v,
       sap_disk_t, sap_disk_v, sap_net_band, sap_net_pk_t, sap_net_pk_v, (0, 155), [0, 50, 100, 150],
       net_x=771)


# ---- Workflow Run Times / Errors ----
def workflow_axes(row, title):
    ax = fig.add_axes(box(1, row))
    ax.set_facecolor(BG)
    x0, x1 = mdates.date2num(XLIM[1][0]), mdates.date2num(XLIM[1][1])
    ax.set_xlim(x0, x1)
    ax.set_xticks(mdates.date2num(XT[1].to_numpy()))
    ax.set_xticklabels(time_labels(1))
    ax.set_yticks(range(len(wf_rows)))
    ax.set_yticklabels(wf_rows)
    ax.set_ylim(8.98, -2.0)
    ax.grid(True, axis="x", color="white", lw=1.0)
    ax.set_axisbelow(True)
    base_style(ax)
    ax.set_title(title, fontsize=TITLE_FS, color=TXT, pad=3.6)
    return ax


axw = workflow_axes(5, "Workflow Run Times")
for name, s, e, c in zip(wf_task, wf_start, wf_end, wf_color):
    left = mdates.date2num(np.datetime64("2025-07-29T" + s))
    right = mdates.date2num(np.datetime64("2025-07-29T" + e))
    axw.barh(wf_rows.index(name), right - left, left=left, height=0.38, color=PAL[c],
             alpha=0.92, edgecolor=(1, 1, 1, 0.45), lw=0.6)
vn_left = mdates.date2num(vn_start)
vn_w = 30 / 86400
axw.barh([wf_rows.index("view-network")] * len(vn_left), vn_w, left=vn_left, height=0.38,
         color=[PAL[c] for c in vn_color], alpha=0.92, edgecolor=(1, 1, 1, 0.45), lw=0.4)

workflow_axes(6, "Workflow Errors")

# ---- Concurrent User Requests ----
axc = fig.add_axes(box(0, 6))
axc.set_facecolor(BG)
axc.plot(conc_t, editor, color="#636EFA", lw=1.1)
axc.plot(conc_t, viewer, color="#EF553B", lw=1.1)
axc.set_xlim(*XLIM[0])
axc.set_xticks(XT[0].to_numpy())
axc.set_xticklabels(time_labels(0))
axc.set_ylim(0, 13.95)
axc.set_yticks([0, 5, 10])
axc.grid(True, color="white", lw=1.0)
axc.set_axisbelow(True)
base_style(axc)
axc.set_title("Concurrent User Requests", fontsize=TITLE_FS, color=TXT, pad=3.6)
legend(axc, [Line2D([], [], color="#636EFA", lw=2.2), Line2D([], [], color="#EF553B", lw=2.2)],
       ["Editor", "Viewer"], 2, 0.2)
axc.text(0.95, 0.955, "Editor : Max - 9, Avg - 3\nViewer : Max - 4, Avg - 2",
         transform=axc.transAxes, ha="right", va="top", fontsize=11.5, color=TXT,
         linespacing=0.85, multialignment="right")
ylab("users", 23, 6)

fig.savefig("out.png", dpi=100, facecolor="white")
